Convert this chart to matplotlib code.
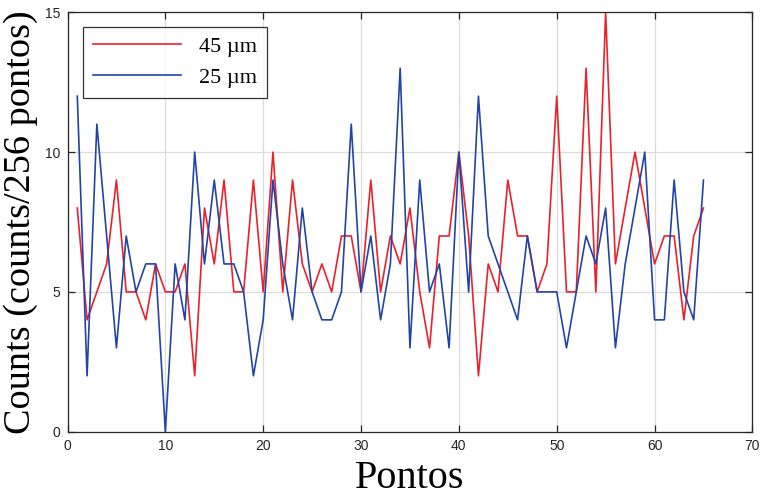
import matplotlib
matplotlib.use("Agg")
import matplotlib.pyplot as plt
import numpy as np

pontos = list(range(1, 66))
counts_45 = [8, 4, 5, 6, 9, 5, 5, 4, 6, 5, 5, 6, 2, 8, 6, 9, 5, 5, 9, 5,
             10, 5, 9, 6, 5, 6, 5, 7, 7, 5, 9, 5, 7, 6, 8, 5, 3, 7, 7, 10,
             7, 2, 6, 5, 9, 7, 7, 5, 6, 12, 5, 5, 13, 5, 15, 6, 8, 10, 8, 6,
             7, 7, 4, 7, 8]
counts_25 = [12, 2, 11, 7, 3, 7, 5, 6, 6, 0, 6, 4, 10, 6, 9, 6, 6, 5, 2, 4,
             9, 6, 4, 8, 5, 4, 4, 5, 11, 5, 7, 4, 6, 13, 3, 9, 5, 6, 3, 10,
             5, 12, 7, 6, 5, 4, 7, 5, 5, 5, 3, 5, 7, 6, 8, 3, 6, 8, 10, 4,
             4, 9, 5, 4, 9]
labels = ["45 µm", "25 µm"]
xticks = [0, 10, 20, 30, 40, 50, 60, 70]
yticks = [0, 5, 10, 15]

fig = plt.figure(figsize=(7.61, 4.97), dpi=100)
ax = fig.add_axes([0.0887, 0.1314, 0.900, 0.8439])

ax.plot(pontos, counts_45, color="#e8222c", lw=1.2, label=labels[0])
ax.plot(pontos, counts_25, color="#2244a8", lw=1.2, label=labels[1])

ax.set_xlim(0, 70)
ax.set_ylim(0, 15)
ax.set_xticks(xticks)
ax.set_yticks(yticks)
ax.grid(True, color="#dcdcdc", lw=0.9)
ax.set_axisbelow(True)
ax.tick_params(direction="in", top=True, right=True, length=5, width=0.9,
               labelsize=10, colors="#262626", pad=5)
for lab in ax.get_xticklabels() + ax.get_yticklabels():
    lab.set_family("Liberation Sans")
for s in ax.spines.values():
    s.set_color("#262626")
    s.set_linewidth(0.9)

ax.set_xlabel("Pontos", family="Liberation Serif", fontsize=29, labelpad=5)
ax.set_ylabel("Counts (counts/256 pontos)", family="Liberation Serif",
              fontsize=27.5, labelpad=5)

leg = ax.legend(loc="upper left", prop={"family": ["Liberation Serif", "DejaVu Serif"], "size": 16},
                frameon=True, fancybox=False, edgecolor="black",
                handlelength=4.0, handletextpad=0.8, borderpad=0.45,
                labelspacing=0.45, bbox_to_anchor=(0.022, 0.966), borderaxespad=0)
leg.get_frame().set_linewidth(0.9)

fig.savefig("out.png", dpi=100)
